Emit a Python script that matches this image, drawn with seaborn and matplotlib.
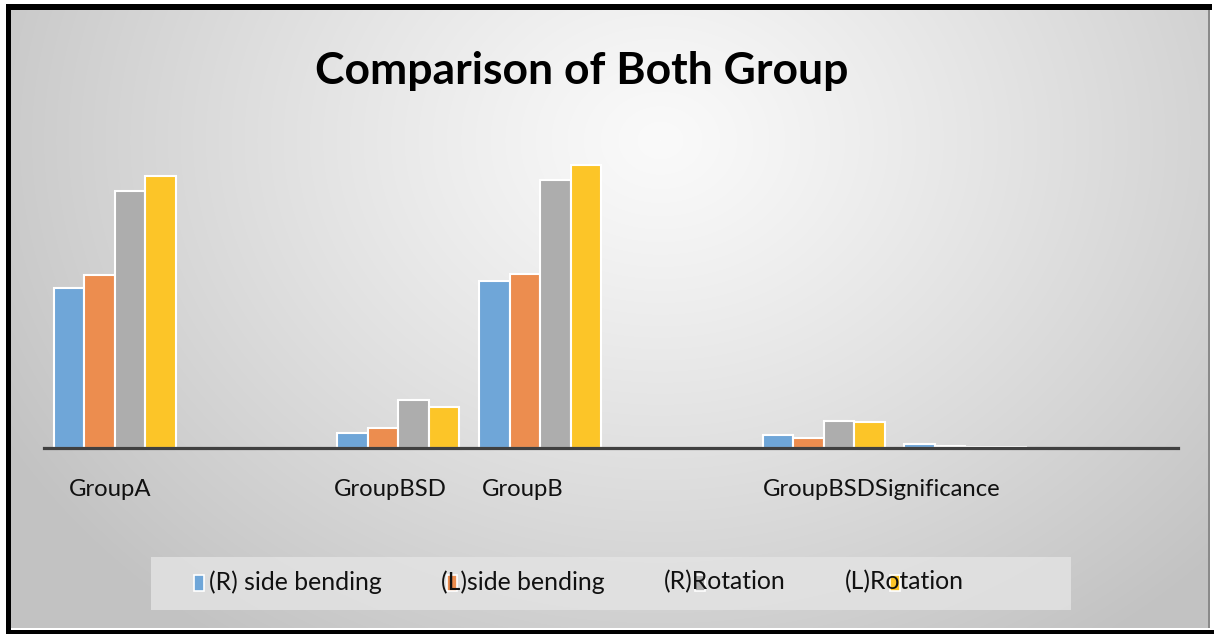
import numpy as np
import pandas as pd
import matplotlib
matplotlib.use("Agg")
import matplotlib.pyplot as plt
import seaborn as sns
from matplotlib.patches import Rectangle

# ---- data -------------------------------------------------------------
series = ["(R) side bending", "(L)side bending", "(R)Rotation", "(L)Rotation"]
slots = [0, 2, 3, 5, 6]          # category slot of each bar group (8 slots on the axis)
r_side_bending = [31.9, 2.9, 33.3, 2.5, 0.8]
l_side_bending = [34.5, 4.0, 34.7, 2.0, 0.34]
r_rotation = [51.3, 9.5, 53.5, 5.4, 0.12]
l_rotation = [54.3, 8.2, 56.6, 5.1, 0.05]
tick_labels = ["GroupA", "GroupBSD", "GroupB", "GroupBSDSignificance"]
title = "Comparison of Both Group"

# ---- style ------------------------------------------------------------
colors = ["#6FA6D8", "#EC8D4F", "#ADADAD", "#FCC528"]
tick_pos = [-0.03, 1.94, 2.876, 5.41]
W, H = 1214, 634

sns.set_theme(style="white")
plt.rcParams["font.family"] = ["Lato", "DejaVu Sans"]

rows = []
for name, vals in zip(series, [r_side_bending, l_side_bending, r_rotation, l_rotation]):
    for s, v in zip(slots, vals):
        rows.append({"slot": s, "series": name, "value": v})
df = pd.DataFrame(rows)

fig = plt.figure(figsize=(W / 100, H / 100), dpi=100)

# background plate with a soft radial gradient
bg = fig.add_axes([0, 0, 1, 1], zorder=-10)
yy, xx = np.mgrid[0:H, 0:W]
d = np.sqrt(((xx - 660) / 760.0) ** 2 + ((yy - 140) / 620.0) ** 2)
v = np.clip(250 - 56 * d ** 1.15, 194, 250) / 255.0
img = np.dstack([v, v, v])
bg.imshow(img, extent=(0, W, H, 0), aspect="auto", interpolation="bilinear")
bg.set_xlim(0, W)
bg.set_ylim(H, 0)
bg.axis("off")

def rect(x0, y0, x1, y1, **kw):
    bg.add_patch(Rectangle((x0, y0), x1 - x0, y1 - y0, linewidth=0, **kw))

# outer white margins and the black frame
rect(0, 0, W, 4, facecolor="white")
rect(0, 0, 6, H, facecolor="white")
rect(1210, 0, W, H, facecolor="white")
rect(0, 628, W, H, facecolor="white")
rect(6, 4, 1212, 10, facecolor="black")
rect(6, 4, 11, 633, facecolor="black")
rect(6, 630, 1214, 634, facecolor="black")
rect(1208, 10, 1210, 628, facecolor="#8A8A8A")

# legend box and entries (markers sit under the entry text)
rect(151, 557, 1071, 610, facecolor="#E4E4E4", alpha=0.8)
legend_text_x = [209, 441, 664, 845]
legend_mark_x = [199, 452, 700, 895]
for name, c, tx, mx in zip(series, colors, legend_text_x, legend_mark_x):
    bg.add_patch(Rectangle((mx - 5, 575), 10, 16, facecolor=c, edgecolor="white",
                           linewidth=1.2, zorder=4))
    bg.text(tx, 582, name, fontsize=17.8, color="#111111", ha="left", va="center",
            zorder=6)

# title
bg.text(582, 71, title, fontsize=32, fontweight="bold", color="black",
        ha="center", va="center")

# ---- bars -------------------------------------------------------------
ax = fig.add_axes([44 / W, (H - 447.5) / H, (1178 - 44) / W, 300 / H])
sns.barplot(data=df, x="slot", y="value", hue="series", order=list(range(8)),
            hue_order=series, palette=colors, saturation=1, width=0.86,
            edgecolor="white", linewidth=1.5, legend=False, ax=ax)
ax.set_xlim(-0.5, 7.5)
ax.set_ylim(0, 60)
ax.patch.set_visible(False)
for side in ["top", "right", "left"]:
    ax.spines[side].set_visible(False)
ax.spines["bottom"].set_color("#404040")
ax.spines["bottom"].set_linewidth(2.3)
ax.set_yticks([])
ax.set_xticks(tick_pos)
ax.set_xticklabels(tick_labels, fontsize=17.2, color="#111111")
ax.tick_params(axis="x", length=0, pad=23)
ax.set_xlabel("")
ax.set_ylabel("")

fig.savefig("out.png", dpi=100)
